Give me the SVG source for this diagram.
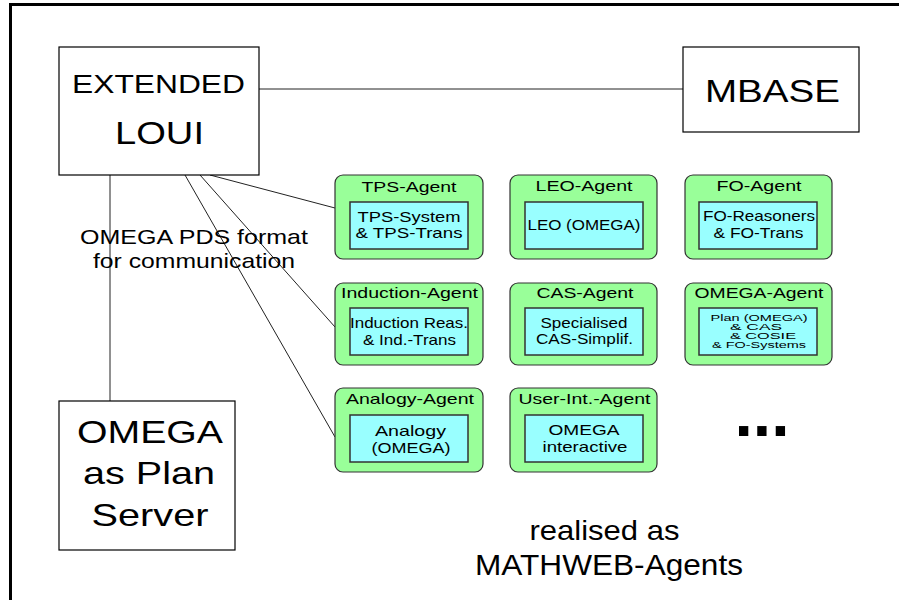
<svg xmlns="http://www.w3.org/2000/svg" width="899" height="600" viewBox="0 0 899 600">
<style>
text{font-family:"Liberation Sans",Arial,sans-serif;fill:#000;text-anchor:middle}
.box{fill:#fff;stroke:#000;stroke-width:1.2}
.agent{fill:#99ff99;stroke:#333;stroke-width:1.2}
.inner{fill:#99ffff;stroke:#333;stroke-width:1.5}
.conn{stroke:#222;stroke-width:1;fill:none}
.big{font-size:32px}
.t{font-size:15px}
.s{font-size:9.2px}
</style>
<rect width="899" height="600" fill="#fff"/>
<path d="M10.5,600 V4.5 H899" fill="none" stroke="#000" stroke-width="3"/>
<g id="connectors">
<line class="conn" x1="259" y1="89" x2="683" y2="89"/>
<line class="conn" x1="110" y1="175" x2="110" y2="401"/>
<line class="conn" x1="210" y1="175" x2="335" y2="208"/>
<line class="conn" x1="200" y1="175" x2="335" y2="327"/>
<line class="conn" x1="185" y1="175" x2="335" y2="437"/>
</g>
<g id="loui">
<rect class="box" x="59" y="47" width="200" height="128"/>
<text x="158.5" y="92.5" font-size="26" textLength="173" lengthAdjust="spacingAndGlyphs">EXTENDED</text>
<text x="159.5" y="143.5" font-size="32" textLength="89" lengthAdjust="spacingAndGlyphs">LOUI</text>
</g>
<g id="mbase">
<rect class="box" x="683" y="47" width="176" height="85"/>
<text x="772.5" y="102" class="big" textLength="135" lengthAdjust="spacingAndGlyphs">MBASE</text>
</g>
<g id="omega-server">
<rect class="box" x="59" y="401" width="176" height="149"/>
<text x="150" y="443" class="big" textLength="146" lengthAdjust="spacingAndGlyphs">OMEGA</text>
<text x="149" y="484" class="big" textLength="132" lengthAdjust="spacingAndGlyphs">as Plan</text>
<text x="150" y="526" class="big" textLength="117" lengthAdjust="spacingAndGlyphs">Server</text>
</g>
<g id="pds-label">
<text x="194" y="243.5" font-size="21" textLength="228" lengthAdjust="spacingAndGlyphs">OMEGA PDS format</text>
<text x="194" y="268" font-size="21" textLength="202" lengthAdjust="spacingAndGlyphs">for communication</text>
</g>
<g id="tps-agent">
<rect class="agent" x="335" y="175" width="148" height="84" rx="8"/>
<rect class="inner" x="350" y="202" width="118" height="47"/>
<text x="409" y="191.5" class="t" textLength="95" lengthAdjust="spacingAndGlyphs">TPS-Agent</text>
<text x="409" y="222" class="t" textLength="103" lengthAdjust="spacingAndGlyphs">TPS-System</text>
<text x="409" y="237.5" class="t" textLength="107" lengthAdjust="spacingAndGlyphs">&amp; TPS-Trans</text>
</g>
<g id="leo-agent">
<rect class="agent" x="510" y="175" width="147" height="84" rx="8"/>
<rect class="inner" x="525" y="202" width="118" height="47"/>
<text x="584" y="191" class="t" textLength="97" lengthAdjust="spacingAndGlyphs">LEO-Agent</text>
<text x="584" y="230" class="t" textLength="113" lengthAdjust="spacingAndGlyphs">LEO (OMEGA)</text>
</g>
<g id="fo-agent">
<rect class="agent" x="685" y="175" width="147" height="84" rx="8"/>
<rect class="inner" x="699" y="202" width="118" height="47"/>
<text x="759" y="191" class="t" textLength="85" lengthAdjust="spacingAndGlyphs">FO-Agent</text>
<text x="759" y="221" class="t" textLength="112" lengthAdjust="spacingAndGlyphs">FO-Reasoners</text>
<text x="758.5" y="237.5" class="t" textLength="90" lengthAdjust="spacingAndGlyphs">&amp; FO-Trans</text>
</g>
<g id="induction-agent">
<rect class="agent" x="335" y="283" width="148" height="82" rx="8"/>
<rect class="inner" x="350" y="308" width="118" height="47"/>
<text x="409.5" y="297.5" class="t" textLength="137" lengthAdjust="spacingAndGlyphs">Induction-Agent</text>
<text x="409" y="327.5" class="t" textLength="118" lengthAdjust="spacingAndGlyphs">Induction Reas.</text>
<text x="409.5" y="344.5" class="t" textLength="93" lengthAdjust="spacingAndGlyphs">&amp; Ind.-Trans</text>
</g>
<g id="cas-agent">
<rect class="agent" x="510" y="283" width="147" height="82" rx="8"/>
<rect class="inner" x="525" y="308" width="118" height="47"/>
<text x="585" y="298" class="t" textLength="97" lengthAdjust="spacingAndGlyphs">CAS-Agent</text>
<text x="584" y="327.5" class="t" textLength="87" lengthAdjust="spacingAndGlyphs">Specialised</text>
<text x="584.5" y="343.5" class="t" textLength="97" lengthAdjust="spacingAndGlyphs">CAS-Simplif.</text>
</g>
<g id="omega-agent">
<rect class="agent" x="685" y="283" width="147" height="82" rx="8"/>
<rect class="inner" x="699" y="308" width="118" height="47"/>
<text x="759" y="297.5" class="t" textLength="129" lengthAdjust="spacingAndGlyphs">OMEGA-Agent</text>
<text x="759" y="320.5" class="s" textLength="97" lengthAdjust="spacingAndGlyphs">Plan (OMEGA)</text>
<text x="756" y="329.7" class="s" textLength="52" lengthAdjust="spacingAndGlyphs">&amp; CAS</text>
<text x="763" y="338.9" class="s" textLength="66" lengthAdjust="spacingAndGlyphs">&amp; COSIE</text>
<text x="759" y="348.3" class="s" textLength="94" lengthAdjust="spacingAndGlyphs">&amp; FO-Systems</text>
</g>
<g id="analogy-agent">
<rect class="agent" x="335" y="388" width="148" height="84" rx="8"/>
<rect class="inner" x="350" y="415" width="118" height="47"/>
<text x="410" y="404" class="t" textLength="128" lengthAdjust="spacingAndGlyphs">Analogy-Agent</text>
<text x="410.5" y="436" class="t" textLength="71" lengthAdjust="spacingAndGlyphs">Analogy</text>
<text x="411" y="452.5" class="t" textLength="79" lengthAdjust="spacingAndGlyphs">(OMEGA)</text>
</g>
<g id="userint-agent">
<rect class="agent" x="510" y="388" width="147" height="84" rx="8"/>
<rect class="inner" x="525" y="415" width="118" height="47"/>
<text x="584.5" y="404" class="t" textLength="132" lengthAdjust="spacingAndGlyphs">User-Int.-Agent</text>
<text x="584" y="435" class="t" textLength="71" lengthAdjust="spacingAndGlyphs">OMEGA</text>
<text x="585" y="451.5" class="t" textLength="85" lengthAdjust="spacingAndGlyphs">interactive</text>
</g>
<g id="ellipsis">
<text x="762" y="436" font-size="66" font-weight="bold">...</text>
</g>
<g id="mathweb-label">
<text x="604.5" y="540" font-size="28" textLength="150" lengthAdjust="spacingAndGlyphs">realised as</text>
<text x="609" y="575" font-size="30" textLength="268" lengthAdjust="spacingAndGlyphs">MATHWEB-Agents</text>
</g>
</svg>
